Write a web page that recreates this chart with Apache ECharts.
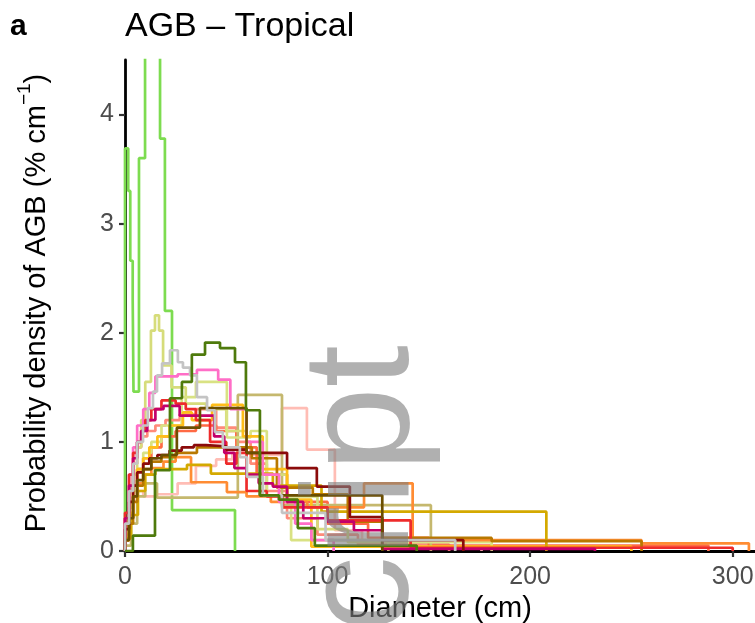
<!DOCTYPE html>
<html><head><meta charset="utf-8">
<script src="https://cdn.jsdelivr.net/npm/echarts@6/dist/echarts.min.js"></script>
<style>html,body{margin:0;padding:0;background:#fff}#c{width:755px;height:623px}</style>
</head><body><div id="c"></div>
<script>
// ---- data: bin edges (cm) and probability densities (% per cm) for each site ----
const xTicks = [0, 100, 200, 300];
const yTicks = [0, 1, 2, 3, 4];

const limeEdges = [0,1.6,2.6,3.8,4.2,6.9,9.9,17.3,19.7,23.2,54.3];
const limeDens  = [3.69,3.3,2.66,2.3,1.46,3.6,5.0,3.78,2.2,0.375];

const lightPinkEdges = [0,2,4,6,9,15,26,35,45,53,62,77.5,89.8,103.6,117,176];
const lightPinkDens  = [0.2,0.4,0.5,0.55,0.5,0.52,0.62,0.78,0.84,0.9,0.88,1.31,0.93,0.19,0.04];

const salmonEdges = [0,2,4,6,8,11,15,20,27,35,45,55,62,70,80,95,115,160];
const salmonDens  = [0.3,0.6,0.8,0.95,1.05,1.1,1.15,1.2,1.25,1.3,1.13,1.0,0.8,0.55,0.3,0.15,0.06];

const coralEdges = [0,2,4,6,9,13,18,25,35,45,55,65,80,100,120,150,288];
const coralDens  = [0.15,0.4,0.6,0.75,0.85,0.95,1.05,1.1,1.15,1.1,0.95,0.7,0.45,0.25,0.12,0.05];

const khakiEdges = [0,3,6,10,15.8,55.7,77.5,151];
const khakiDens  = [0.05,0.25,0.5,0.62,0.49,1.43,0.42];

const paleGreen1Edges = [0,2,4,6,8,10,12.8,14.8,16.8,18.8,23,30,40,50,60,70,80,95,110,130];
const paleGreen1Dens  = [0.1,0.4,0.7,0.95,1.2,1.55,2.02,2.16,2.02,1.7,1.5,1.35,1.3,1.1,0.9,0.7,0.5,0.2,0.1];

const paleGreen2Edges = [0,2,4,6,9,13,18,28,35,50.3,62,70,77.5,82,95,110,181];
const paleGreen2Dens  = [0.1,0.3,0.55,0.75,0.9,1.0,1.15,1.41,1.55,1.04,1.1,0.5,0.4,0.1,0.1,0.08];

const yellowOrangeEdges = [0,2,4,6,9,12,16,22,28.6,33,43,58.2,68,80,92,250];
const yellowOrangeDens  = [0.1,0.35,0.6,0.75,0.85,0.95,1.05,1.15,1.27,1.2,1.34,1.05,0.75,0.47,0.04];

const orangeEdges = [0,2,4,6,9,13,19,25,32.6,50.3,60,72,90,118,142,255,308];
const orangeDens  = [0.1,0.3,0.5,0.62,0.7,0.76,0.82,0.86,0.63,0.54,0.5,0.45,0.4,0.62,0.1,0.07];

const goldEdges = [0,3,6.4,10,15,30.6,42.4,73,97,208];
const goldDens  = [0.12,0.33,0.55,0.7,0.75,0.79,0.71,0.6,0.36];

const ochreEdges = [0,2,4,6,9,13,18,25,35.5,62.6,75,92.7,110,127,181,255];
const ochreDens  = [0.1,0.25,0.45,0.6,0.75,0.82,0.86,0.9,0.95,0.85,0.58,0.52,0.27,0.12,0.09];

const hotPinkEdges = [0,2,4,6,9,12,15,26,35.5,46,52,60,68,76,84,92,103];
const hotPinkDens  = [0.3,0.7,0.95,1.15,1.3,1.45,1.6,1.62,1.66,1.57,1.3,1.0,0.7,0.45,0.25,0.1];

const redEdges = [0,2,4,6,8,10,13,18,25,30,35,42,50,55,60,70,78,100,141,300];
const redDens  = [0.35,0.7,0.9,1.0,1.1,1.2,1.3,1.38,1.35,1.3,1.2,1.0,0.8,0.9,0.55,0.5,0.4,0.28,0.03];

const magentaEdges = [0,2,4,6,8,11,15,19,27,44,49,54,60,66,73,80,88,100,113,127,232];
const magentaDens  = [0.3,0.6,0.85,1.0,1.1,1.2,1.3,1.33,1.24,1.05,0.9,0.76,0.7,0.62,0.59,0.45,0.3,0.27,0.19,0.02];

const darkRedEdges = [0,2,4,6,9,12,16,22,28,34,40,50,60,80,94.7,111,127,167];
const darkRedDens  = [0.2,0.45,0.6,0.72,0.8,0.85,0.88,0.92,0.95,0.97,0.96,0.93,0.9,0.76,0.59,0.31,0.1];

const brownEdges = [0,2,4,6,9,13,18,25.6,37,60,66.6,127];
const brownDens  = [0.1,0.3,0.5,0.65,0.75,0.85,0.88,1.13,1.31,0.9,0.51];

const grayEdges = [0,2,4,6,8.9,11.3,13.8,15.8,18.3,22.2,26.1,28.6,32.1,35.5,40.5,44.4,48.3,56.7,60.2,68.1,77.5,99,163];
const grayDens  = [0.25,0.55,0.8,1.0,1.15,1.31,1.46,1.61,1.72,1.84,1.73,1.68,1.61,1.41,1.29,1.09,0.95,0.86,0.68,0.51,0.35,0.1];

const oliveEdges = [0,3.9,14.8,22.2,28.1,33,39.5,46.9,54.3,59.7,66.6,76,85.3,93.7,144];
const oliveDens  = [0,0.14,0.74,1.4,1.55,1.8,1.91,1.86,1.73,1.29,0.51,0.47,0.21,0.05];

// ---- styling (kept separate from the data) ----
const siteList = [
  ['lime', limeEdges, limeDens, '#7ddc50'],
  ['lightPink', lightPinkEdges, lightPinkDens, '#ffbdb5'],
  ['salmon', salmonEdges, salmonDens, '#ff8a7a'],
  ['coral', coralEdges, coralDens, '#ff6a45'],
  ['khaki', khakiEdges, khakiDens, '#c5b86e'],
  ['paleGreen1', paleGreen1Edges, paleGreen1Dens, '#d6dc7a'],
  ['paleGreen2', paleGreen2Edges, paleGreen2Dens, '#d9e283'],
  ['yellowOrange', yellowOrangeEdges, yellowOrangeDens, '#ffbe1a'],
  ['orange', orangeEdges, orangeDens, '#ff8c33'],
  ['gold', goldEdges, goldDens, '#d4a900'],
  ['ochre', ochreEdges, ochreDens, '#b87800'],
  ['hotPink', hotPinkEdges, hotPinkDens, '#ff6ec7'],
  ['red', redEdges, redDens, '#ee2b2b'],
  ['magenta', magentaEdges, magentaDens, '#c3006b'],
  ['darkRed', darkRedEdges, darkRedDens, '#8b0b0b'],
  ['brown', brownEdges, brownDens, '#6b4e00'],
  ['gray', grayEdges, grayDens, '#c4c4c4'],
  ['olive', oliveEdges, oliveDens, '#4e7a0c']
];

function stepPoints(edges, dens) {
  const pts = [[edges[0], 0]];
  for (let i = 0; i < dens.length; i++) pts.push([edges[i], dens[i]]);
  pts.push([edges[edges.length - 1], 0]);
  return pts;
}

const FONT = 'Liberation Sans, Arial, Helvetica, sans-serif';
const chart = echarts.init(document.getElementById('c'), null, { renderer: 'canvas' });

const option = {
  animation: false,
  backgroundColor: '#ffffff',
  textStyle: { fontFamily: FONT },
  grid: { left: 125, right: 0, top: 60, bottom: 72, containLabel: false, outerBoundsMode: 'none' },
  xAxis: {
    type: 'value', min: 0, max: 311, interval: 100,
    axisLine: { show: true, onZero: false, lineStyle: { color: '#000', width: 2.8 } },
    axisTick: { show: true, length: 6, lineStyle: { color: '#333', width: 2.2 } },
    axisLabel: { fontSize: 25, color: '#4d4d4d', margin: 14, fontFamily: FONT, showMaxLabel: false,
      formatter: v => (xTicks.indexOf(v) >= 0 ? String(v) : '') },
    splitLine: { show: false },
    name: 'Diameter (cm)', nameLocation: 'middle', nameGap: 38,
    nameTextStyle: { fontSize: 29, color: '#000', fontFamily: FONT }
  },
  yAxis: {
    type: 'value', min: 0, max: 4.5, interval: 1,
    axisLine: { show: true, onZero: false, lineStyle: { color: '#000', width: 2.8 } },
    axisTick: { show: true, length: 6, lineStyle: { color: '#333', width: 2.2 } },
    axisLabel: { fontSize: 25, color: '#4d4d4d', margin: 11, fontFamily: FONT, showMaxLabel: false,
      formatter: v => (yTicks.indexOf(v) >= 0 ? String(v) : '') },
    splitLine: { show: false }
  },
  series: siteList.map(s => ({
    name: s[0], type: 'line', step: 'end', symbol: 'none', clip: true,
    data: stepPoints(s[1], s[2]),
    lineStyle: { color: s[3], width: 2.7 },
    itemStyle: { color: s[3] }
  })),
  graphic: [
    { type: 'text', x: 10, y: 27, z: 100,
      style: { text: 'a', font: 'bold 30px ' + FONT, fill: '#000', align: 'left', verticalAlign: 'middle' } },
    { type: 'text', x: 125, y: 27, z: 100,
      style: { text: 'AGB – Tropical', font: '34px ' + FONT, fill: '#000', align: 'left', verticalAlign: 'middle' } },
    { type: 'text', x: 33, y: 303, rotation: Math.PI / 2, z: 100,
      style: {
        text: '{n|Probability density of AGB (% cm}{s|−1}{n|)}',
        align: 'center', verticalAlign: 'middle', fill: '#000',
        rich: {
          n: { fontSize: 29, fontFamily: FONT, fill: '#000', verticalAlign: 'bottom', lineHeight: 36 },
          s: { fontSize: 19, fontFamily: FONT, fill: '#000', verticalAlign: 'top', lineHeight: 36 }
        }
      } },
    { type: 'text', x: 366, y: 345, rotation: Math.PI / 2, z: 200, silent: true,
      style: { text: 'Manuscript', font: '152px ' + FONT, fill: 'rgba(128,128,128,0.62)', align: 'right', verticalAlign: 'middle' } }
  ]
};
chart.setOption(option);
</script>
</body></html>
